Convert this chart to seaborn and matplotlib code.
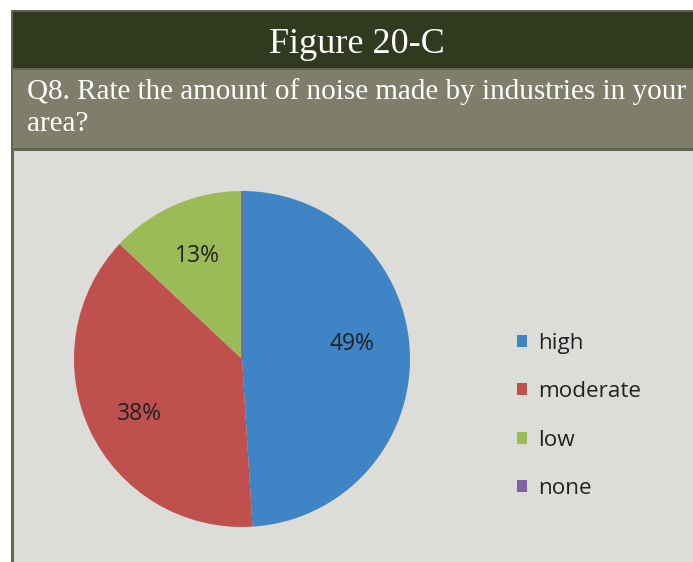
import matplotlib
matplotlib.use("Agg")
import matplotlib.pyplot as plt
from matplotlib.patches import Rectangle
import seaborn as sns

# Survey responses
categories = ["high", "moderate", "low", "none"]
shares = [49, 38, 13, 0]
title = "Figure 20-C"
question_lines = ["Q8. Rate the amount of noise made by industries in your", "area?"]

sns.set_theme(style="white")
plt.rcParams["font.family"] = ["Open Sans", "DejaVu Sans"]

palette = sns.color_palette(["#3F84C4", "#C0504D", "#9BBB59", "#8064A2"])

W, H = 693, 562
fig = plt.figure(figsize=(W / 100, H / 100), dpi=100, facecolor="white")


def box(x0, y0, x1, y1, color):
    """Filled rectangle given in pixel coordinates measured from the top-left."""
    fig.patches.append(Rectangle((x0 / W, 1 - y1 / H), (x1 - x0) / W, (y1 - y0) / H,
                                 transform=fig.transFigure, facecolor=color,
                                 edgecolor="none", zorder=-5))


# Framed header bands and panel
box(11, 10, W, H, "#62654F")
box(13, 12, W, 68, "#313A1F")
box(13, 70, W, 148, "#7F7E6A")
box(14, 151, W, H, "#DCDDD8")

fig.text(357 / W, 1 - 53 / H, title, ha="center", va="baseline", color="white",
         fontsize=26, family="Liberation Serif")
for line, base in zip(question_lines, [99, 131]):
    fig.text(27 / W, 1 - base / H, line, ha="left", va="baseline", color="white",
             fontsize=21, family="Liberation Serif")

# Pie
cx, cy, r = 242, 359, 168
ax = fig.add_axes([(cx - r) / W, 1 - (cy + r) / H, 2 * r / W, 2 * r / H])
ax.set_facecolor("none")
wedges, texts, autotexts = ax.pie(
    shares, colors=palette, startangle=90, counterclock=False,
    autopct=lambda p: f"{p:.0f}%" if p > 0 else "", pctdistance=0.67,
    wedgeprops=dict(linewidth=0), textprops=dict(fontsize=16.5, color="#222222"),
)
# zero-share wedge still shows as a thin line
wedges[3].set_edgecolor(palette[3])
wedges[3].set_linewidth(1.2)
autotexts[0].set_position((0.655, 0.09))
autotexts[1].set_position((-0.613, -0.33))
ax.set_xlim(-1, 1)
ax.set_ylim(-1, 1)
ax.set_aspect("equal")
ax.axis("off")

leg = ax.legend(wedges, categories, loc="center left",
                bbox_to_anchor=(517 / W, 1 - 416 / H), bbox_transform=fig.transFigure,
                frameon=False, fontsize=16.2, borderpad=0, borderaxespad=0,
                handlelength=0.45, handleheight=0.45, handletextpad=0.5,
                labelspacing=1.22)
for t in leg.get_texts():
    t.set_color("#222222")
leg.legend_handles[3].set_linewidth(0)

fig.savefig("out.png", dpi=100, facecolor="white")
